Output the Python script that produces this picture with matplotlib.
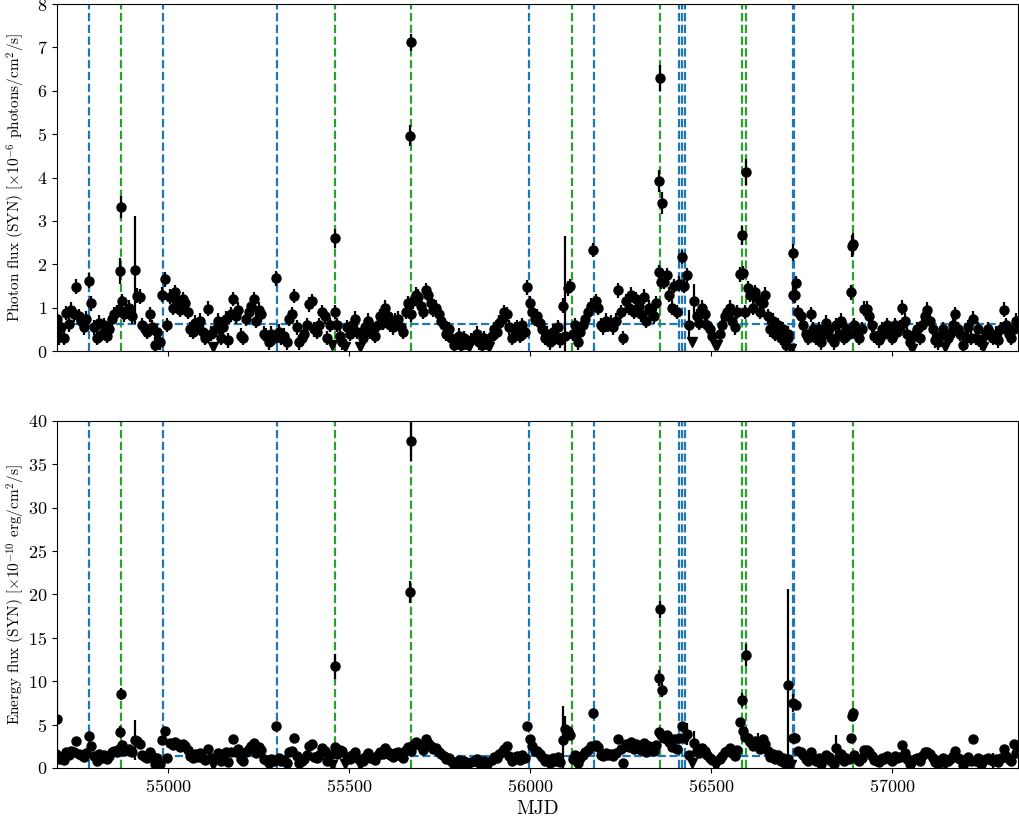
import numpy as np
import matplotlib
matplotlib.use("Agg")
import matplotlib.pyplot as plt

plt.rcParams['font.family'] = 'cmr10'
plt.rcParams['mathtext.fontset'] = 'cm'
plt.rcParams['axes.formatter.use_mathtext'] = True
plt.rcParams['axes.unicode_minus'] = False

# weekly bins, first bin centre and width in days
t0 = 54690.0
binw = 7.0

# photon flux, 1e-6 ph/cm2/s, one value per weekly bin
photon = [
    0.75, 0.32, 0.55, 0.3, 0.88, 0.62, 0.95, 0.85, 1.48, 0.8,
    0.7, 0.55, 0.75, 1.62, 1.1, 0.55, 0.3, 0.65, 0.4, 0.6,
    0.35, 0.5, 0.75, 0.85, 0.9, 0.95, 1.15, 0.85, 0.9, 1.0,
    0.8, 1.87, 1.28, 1.25, 0.6, 0.5, 0.45, 0.85, 0.55, 0.15,
    0.45, 0.2, 1.3, 1.65, 0.6, 1.25, 1.0, 1.35, 1.15, 0.95,
    1.2, 1.1, 0.9, 0.5, 0.45, 0.65, 0.55, 0.7, 0.45, 0.3,
    0.98, 0.4, 0.1, 0.5, 0.7, 0.3, 0.55, 0.75, 0.25, 0.85,
    1.2, 0.8, 0.95, 0.35, 0.3, 0.75, 0.9, 1.05, 1.2, 0.7,
    0.95, 0.85, 0.4, 0.35, 0.2, 0.4, 0.3, 1.68, 0.45, 0.3,
    0.35, 0.2, 0.75, 0.85, 1.27, 0.55, 0.2, 0.3, 0.4, 0.6,
    1.08, 1.15, 0.5, 0.45, 0.6, 0.9, 0.8, 0.3, 0.6, 0.15,
    0.9, 0.6, 0.35, 0.2, 0.1, 0.55, 0.4, 0.6, 0.75, 0.45,
    0.1, 0.3, 0.55, 0.7, 0.45, 0.5, 0.35, 0.6, 0.8, 0.65,
    1.0, 0.8, 0.6, 0.55, 0.7, 0.75, 0.55, 0.45, 0.9, 1.1,
    0.85, 1.15, 1.3, 1.25, 1.05, 0.9, 1.4, 1.3, 1.1, 0.95,
    1.0, 0.85, 0.7, 0.6, 0.4, 0.5, 0.3, 0.15, 0.25, 0.35,
    0.15, 0.3, 0.2, 0.1, 0.25, 0.3, 0.4, 0.2, 0.15, 0.3,
    0.2, 0.1, 0.35, 0.5, 0.45, 0.65, 0.75, 0.9, 0.85, 0.55,
    0.3, 0.5, 0.55, 0.35, 0.6, 0.45, 1.47, 1.1, 0.9, 0.75,
    0.8, 0.65, 0.5, 0.3, 0.4, 0.2, 0.45, 0.3, 0.55, 0.25,
    1.05, 0.35, 1.45, 1.5, 0.4, 0.6, 0.2, 0.45, 0.6, 0.75,
    0.9, 1.05, 2.33, 1.15, 1.0, 0.6, 0.55, 0.7, 0.6, 0.65,
    0.55, 0.7, 1.4, 0.9, 0.3, 1.15, 1.0, 1.3, 0.9, 1.2,
    1.05, 0.85, 1.25, 0.7, 1.0, 0.9, 0.8, 1.1, 1.82, 1.6,
    1.6, 1.75, 1.3, 1.0, 1.5, 0.9, 1.55, 2.17, 1.5, 1.75,
    0.6, 0.2, 1.15, 0.8, 0.65, 1.0, 0.85, 0.6, 0.5, 0.35,
    0.15, 0.15, 0.4, 0.6, 0.8, 0.9, 1.0, 0.7, 0.55, 0.9,
    1.77, 1.8, 0.9, 1.45, 1.3, 1.0, 1.35, 1.2, 0.9, 1.1,
    1.3, 0.8, 0.5, 0.7, 0.4, 0.6, 0.3, 0.5, 0.15, 0.4,
    0.05, 1.3, 1.56, 0.9, 0.8, 0.6, 0.4, 0.3, 0.85, 0.5,
    0.3, 0.5, 0.2, 0.4, 0.65, 0.5, 0.3, 0.2, 0.6, 0.4,
    0.7, 0.3, 0.5, 0.4, 1.35, 0.6, 0.4, 0.3, 0.5, 0.98,
    0.98, 0.8, 0.6, 0.35, 0.3, 0.25, 0.5, 0.4, 0.6, 0.45,
    0.3, 0.6, 0.45, 0.55, 1.0, 0.7, 0.4, 0.2, 0.05, 0.4,
    0.5, 0.3, 0.6, 0.8, 0.95, 0.7, 0.5, 0.25, 0.2, 0.35,
    0.5, 0.1, 0.3, 0.4, 0.6, 0.85, 0.5, 0.4, 0.15, 0.3,
    0.55, 0.3, 0.75, 0.3, 0.5, 0.2, 0.1, 0.4, 0.5, 0.35,
    0.3, 0.4, 0.25, 0.5, 0.95, 0.6, 0.4, 0.3, 0.5, 0.7,
]

# energy flux, 1e-10 erg/cm2/s, same bins
energy = [
    1.6, 1.0, 1.3, 0.9, 1.8, 1.5, 2.0, 1.8, 3.1, 1.6,
    1.5, 1.3, 1.7, 3.7, 2.5, 1.4, 0.8, 1.6, 1.1, 1.5,
    1.0, 1.4, 1.8, 2.0, 1.9, 2.2, 2.6, 2.0, 2.1, 2.2,
    1.8, 3.2, 3.1, 2.8, 1.5, 1.3, 1.2, 1.9, 1.4, 0.5,
    1.2, 0.5, 3.2, 4.3, 1.2, 2.9, 2.6, 3.0, 2.8, 2.4,
    2.8, 2.5, 2.1, 1.4, 1.2, 1.6, 1.3, 1.7, 1.2, 0.9,
    2.2, 1.1, 0.4, 1.3, 1.7, 0.8, 1.4, 1.8, 0.7, 1.9,
    3.3, 1.9, 2.2, 1.0, 0.8, 1.8, 2.2, 2.5, 2.9, 1.7,
    2.4, 2.1, 1.0, 0.9, 0.6, 1.0, 0.8, 4.8, 1.2, 0.8,
    0.9, 0.6, 1.8, 2.0, 3.4, 1.4, 0.6, 0.8, 1.0, 1.5,
    2.5, 2.8, 1.3, 1.2, 1.5, 2.3, 2.0, 0.8, 1.5, 0.4,
    2.4, 1.6, 2.1, 2.0, 0.5, 1.3, 1.0, 1.5, 1.8, 1.1,
    0.4, 0.8, 1.3, 1.7, 1.1, 1.2, 0.9, 1.5, 1.9, 1.6,
    2.3, 1.9, 1.5, 1.3, 1.7, 1.8, 1.4, 1.1, 2.1, 2.4,
    2.0, 2.6, 3.0, 2.8, 2.5, 2.1, 3.3, 2.9, 2.5, 2.2,
    2.3, 1.9, 1.6, 1.4, 1.0, 1.2, 0.8, 0.4, 0.7, 0.9,
    0.4, 0.8, 0.6, 0.3, 0.7, 0.8, 1.0, 0.6, 0.4, 0.8,
    0.6, 0.3, 0.9, 1.3, 1.2, 1.6, 1.8, 2.2, 2.5, 1.4,
    0.8, 1.3, 1.4, 0.9, 1.5, 1.2, 4.8, 3.3, 2.5, 2.0,
    2.0, 1.6, 1.3, 0.8, 1.0, 0.6, 1.1, 0.8, 1.3, 0.7,
    3.2, 4.5, 4.3, 3.8, 1.0, 1.5, 0.6, 1.1, 1.5, 1.8,
    2.1, 2.5, 6.3, 2.7, 2.4, 1.5, 1.4, 1.7, 1.5, 1.6,
    1.4, 1.7, 3.3, 2.2, 0.6, 2.8, 2.4, 3.0, 2.2, 2.8,
    2.5, 2.1, 2.9, 1.8, 2.5, 2.3, 2.0, 2.7, 4.2, 3.8,
    3.5, 3.8, 3.0, 2.4, 3.3, 2.2, 3.5, 4.8, 3.4, 3.9,
    1.5, 0.6, 2.9, 2.0, 1.7, 2.3, 2.0, 1.5, 1.2, 0.9,
    0.4, 0.5, 1.0, 1.4, 1.9, 2.0, 2.3, 1.7, 1.4, 2.1,
    5.3, 4.3, 3.6, 3.5, 3.0, 2.5, 3.1, 2.8, 2.2, 3.3,
    2.8, 2.0, 1.3, 1.6, 1.0, 1.5, 0.8, 1.2, 0.4, 1.0,
    0.3, 3.5, 7.3, 2.0, 1.8, 1.5, 1.0, 0.8, 1.9, 1.2,
    0.8, 1.2, 0.5, 1.0, 1.5, 1.3, 0.8, 0.5, 2.3, 1.1,
    1.6, 0.8, 1.2, 1.0, 3.4, 1.5, 1.0, 0.8, 1.2, 2.1,
    2.1, 1.8, 1.4, 0.9, 0.8, 0.7, 1.2, 1.0, 1.4, 1.1,
    0.8, 1.4, 1.1, 1.3, 2.6, 1.7, 1.0, 0.5, 0.3, 1.0,
    1.2, 0.8, 1.4, 1.8, 1.9, 1.6, 1.2, 0.7, 0.5, 0.9,
    1.2, 0.3, 0.8, 1.0, 1.4, 2.0, 1.2, 1.0, 0.4, 0.8,
    1.3, 0.8, 3.3, 0.8, 1.2, 0.5, 0.3, 1.0, 1.2, 0.9,
    0.8, 1.0, 0.7, 1.2, 2.2, 1.4, 1.0, 0.8, 2.8, 1.7,
]

# typical 1-sigma errors and the few bins with larger ones
photon_err_typ = 0.17
energy_err_typ = 0.45
photon_err_big = {31: 1.25, 201: 2.3, 250: 0.35, 252: 0.4}
energy_err_big = {31: 2.3, 200: 3.9, 201: 1.5, 249: 1.3, 252: 1.4, 277: 1.2, 308: 1.5, 370: 0.9}

# bins where only an upper limit was obtained
ul_bins = [62, 109, 114, 120, 163, 171, 251, 260, 261, 290, 338, 351, 366]

# short-timescale flare points (MJD, photon, photon err, energy, energy err)
flare_mjd = [54694, 54867, 54870, 55462, 55667, 55670, 56356, 56359, 56364,
             56585, 56597, 56713, 56727, 56731, 56890, 56893]
flare_photon = [0.75, 1.85, 3.32, 2.6, 4.97, 7.12, 3.92, 6.3, 3.42,
                2.67, 4.12, 0.3, 2.27, 1.3, 2.42, 2.47]
flare_photon_err = [0.15, 0.3, 0.25, 0.22, 0.25, 0.2, 0.25, 0.3, 0.25,
                    0.22, 0.3, 0.2, 0.2, 0.2, 0.25, 0.25]
flare_energy = [5.6, 4.2, 8.5, 11.7, 20.3, 37.7, 10.4, 18.3, 9.0,
                7.8, 13.0, 9.6, 7.5, 3.5, 6.0, 6.3]
flare_energy_err = [4.5, 0.6, 0.7, 1.4, 1.3, 2.3, 0.9, 1.0, 0.8,
                    0.8, 1.3, 11.0, 1.0, 0.5, 0.6, 0.6]

# epochs marked in the light curve
blue_epochs = [54781, 54986, 55302, 55996, 56176, 56411, 56419, 56428, 56727, 56730]
green_epochs = [54870, 55462, 55670, 56115, 56359, 56585, 56597, 56893]

# mean flux levels
photon_mean = 0.62
energy_mean = 1.4

t = t0 + binw * np.arange(len(photon))
photon = np.array(photon)
energy = np.array(energy)
perr = np.full(len(photon), photon_err_typ)
eerr = np.full(len(energy), energy_err_typ)
for k, v in photon_err_big.items():
    perr[k] = v
for k, v in energy_err_big.items():
    eerr[k] = v
det = np.ones(len(photon), bool)
det[ul_bins] = False

fig = plt.figure(figsize=(10.19, 8.25), dpi=100)
ax1 = fig.add_axes([0.056, 0.5745, 0.943, 0.4205])
ax2 = fig.add_axes([0.056, 0.0691, 0.943, 0.4206])

panels = [
    (ax1, photon, perr, flare_photon, flare_photon_err, photon_mean, 8,
     r'Photon flux (SYN) [$\times 10^{-6}$ photons/cm$^{2}$/s]'),
    (ax2, energy, eerr, flare_energy, flare_energy_err, energy_mean, 40,
     r'Energy flux (SYN) [$\times 10^{-10}$ erg/cm$^{2}$/s]'),
]

for ax, y, yerr, fy, fyerr, mean, ytop, label in panels:
    for e in blue_epochs:
        ax.axvline(e, color='tab:blue', ls='--', lw=1.6, zorder=1)
    for e in green_epochs:
        ax.axvline(e, color='tab:green', ls='--', lw=1.6, zorder=1)
    ax.axhline(mean, color='tab:blue', ls='--', lw=1.6, zorder=1)
    ax.errorbar(t[det], y[det], yerr=yerr[det], fmt='o', color='k',
                ms=6.5, elinewidth=1.6, capsize=0, zorder=3)
    ax.plot(t[~det], y[~det], 'v', color='k', ms=7, zorder=3)
    ax.errorbar(flare_mjd, fy, yerr=fyerr, fmt='o', color='k',
                ms=6.5, elinewidth=1.6, capsize=0, zorder=3)
    ax.set_xlim(54693, 57348)
    ax.set_ylim(0, ytop)
    ax.set_ylabel(label, fontsize=11)
    ax.tick_params(labelsize=13)
    ax.set_xticks([55000, 55500, 56000, 56500, 57000])

ax1.set_xticklabels([])
ax2.set_xlabel('MJD', fontsize=14)
ax1.yaxis.set_label_coords(-0.031, 0.5)
ax2.yaxis.set_label_coords(-0.031, 0.5)

fig.savefig('out.png', dpi=100)
